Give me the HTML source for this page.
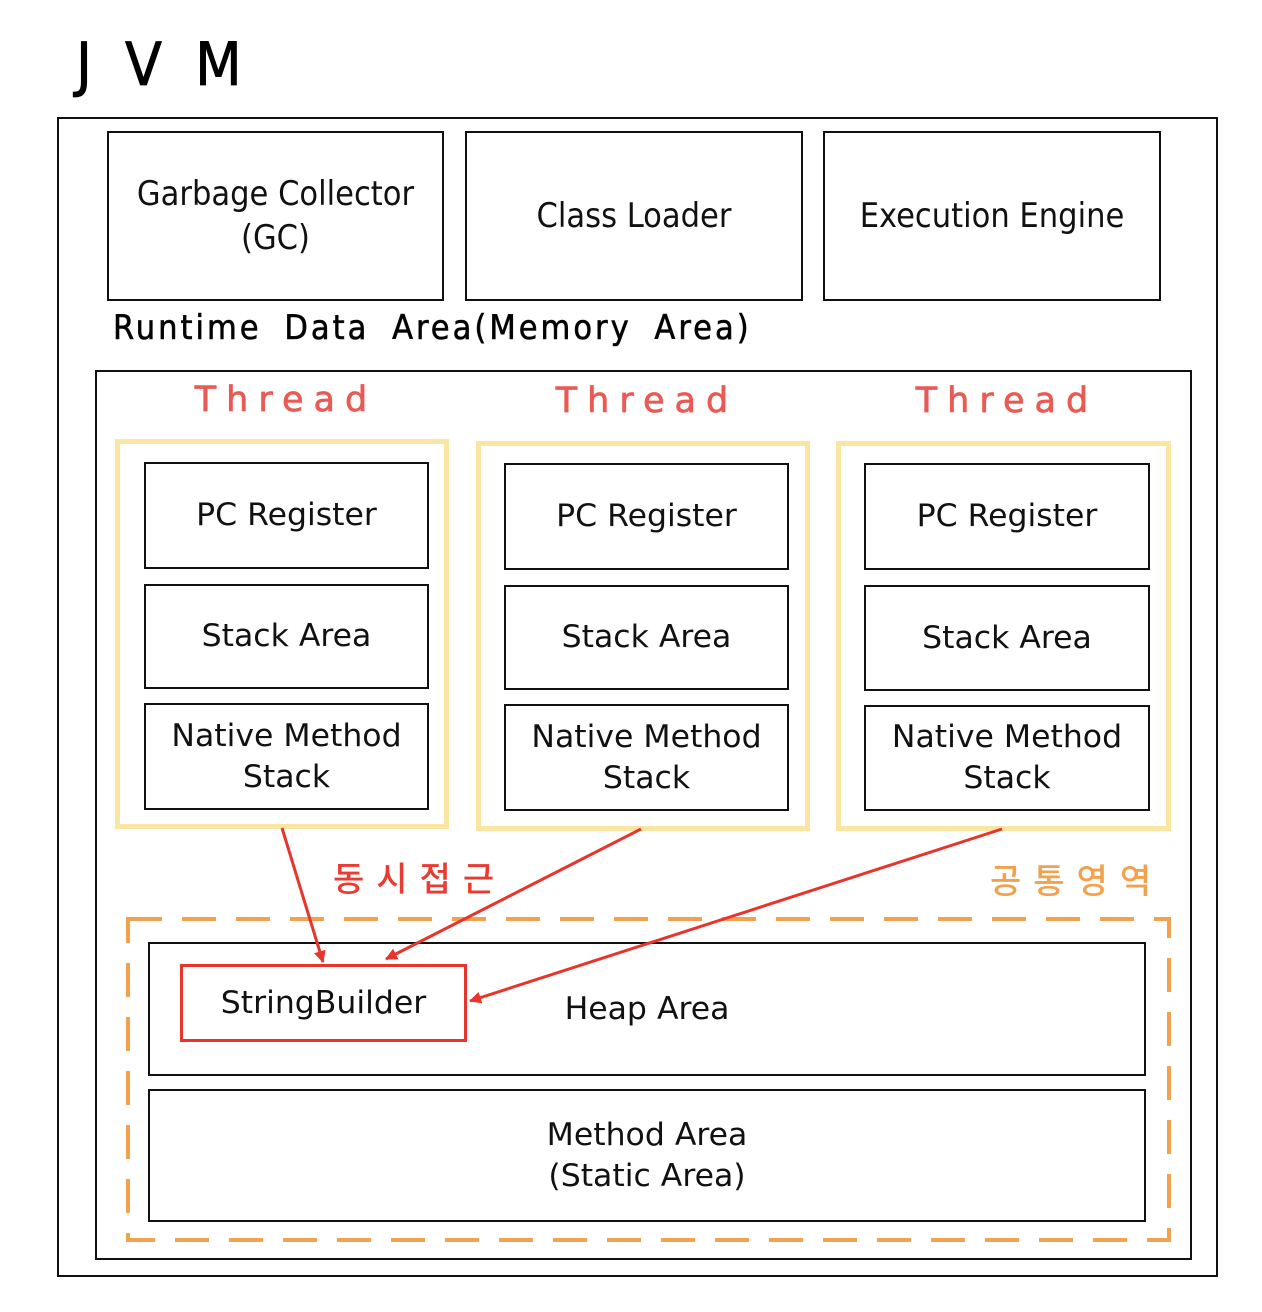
<!DOCTYPE html>
<html><head><meta charset="utf-8"><style>
body{margin:0;width:1262px;height:1312px;background:#fff;position:relative;font-family:"DejaVu Sans","Liberation Sans","Noto Sans CJK KR",sans-serif;overflow:hidden}
.b{position:absolute;box-sizing:border-box;border:2.5px solid #111;display:flex;align-items:center;justify-content:center;text-align:center;color:#111;font-size:31.5px;line-height:1.3}
.c{font-family:"DejaVu Sans Condensed","DejaVu Sans",sans-serif;font-size:34px}
.y{position:absolute;box-sizing:border-box;border:5px solid #fbe5a3}
.t{position:absolute;color:#ea5a55;font-size:35px;letter-spacing:10px;font-family:"DejaVu Sans",sans-serif;width:300px;text-align:center;-webkit-text-stroke:0.7px #ea5a55}
.k{position:absolute;font-family:"Noto Sans CJK KR",sans-serif;font-size:34px;font-weight:500;letter-spacing:12px}
</style></head><body>
<div style="position:absolute;left:76px;top:30px;font-size:60px;letter-spacing:7px;word-spacing:2px;font-family:'DejaVu Sans Condensed','DejaVu Sans',sans-serif;-webkit-text-stroke:0.8px #000">J V M</div>
<div class="b" style="left:57px;top:117px;width:1161px;height:1160px"></div>
<div class="b c" style="left:107px;top:131px;width:337px;height:170px">Garbage Collector<br>(GC)</div>
<div class="b c" style="left:465px;top:131px;width:338px;height:170px">Class Loader</div>
<div class="b c" style="left:823px;top:131px;width:338px;height:170px">Execution Engine</div>
<div style="position:absolute;left:113px;top:308px;font-size:34px;letter-spacing:3px;word-spacing:10px;font-family:'DejaVu Sans Condensed','DejaVu Sans',sans-serif;-webkit-text-stroke:0.6px #111">Runtime Data Area(Memory Area)</div>
<div class="b" style="left:95px;top:370px;width:1097px;height:890px"></div>

<div class="t" style="left:136px;top:380px">Thread</div>
<div class="t" style="left:497px;top:381px">Thread</div>
<div class="t" style="left:857px;top:381px">Thread</div>

<div class="y" style="left:115px;top:439px;width:334px;height:390px"></div>
<div class="y" style="left:476px;top:441px;width:334px;height:390px"></div>
<div class="y" style="left:836px;top:441px;width:335px;height:390px"></div>

<div class="b" style="left:144px;top:462px;width:285px;height:107px">PC Register</div>
<div class="b" style="left:144px;top:584px;width:285px;height:105px">Stack Area</div>
<div class="b" style="left:144px;top:703px;width:285px;height:107px">Native Method<br>Stack</div>
<div class="b" style="left:504px;top:463px;width:285px;height:107px">PC Register</div>
<div class="b" style="left:504px;top:585px;width:285px;height:105px">Stack Area</div>
<div class="b" style="left:504px;top:704px;width:285px;height:107px">Native Method<br>Stack</div>
<div class="b" style="left:864px;top:463px;width:286px;height:107px">PC Register</div>
<div class="b" style="left:864px;top:585px;width:286px;height:106px">Stack Area</div>
<div class="b" style="left:864px;top:705px;width:286px;height:106px">Native Method<br>Stack</div>

<div class="k" style="left:333px;top:852px;color:#ea3b32">동시접근</div>
<div class="k" style="left:990px;top:854px;color:#f2a24e">공통영역</div>

<svg style="position:absolute;left:0;top:0" width="1262" height="1312">
<rect x="128" y="919" width="1041" height="321" fill="none" stroke="#f2a24e" stroke-width="4" stroke-dasharray="34,20"/>
</svg>
<div class="b" style="left:148px;top:942px;width:998px;height:134px">Heap Area</div>
<div class="b" style="left:148px;top:1089px;width:998px;height:133px">Method Area<br>(Static Area)</div>
<div class="b" style="left:180px;top:964px;width:287px;height:78px;border:3px solid #e8352c">StringBuilder</div>
<svg style="position:absolute;left:0;top:0" width="1262" height="1312">
<defs><marker id="a" markerWidth="12" markerHeight="12" refX="11" refY="6" orient="auto" markerUnits="userSpaceOnUse"><path d="M0,0 L12,6 L0,12 z" fill="#e8352c"/></marker></defs>
<g stroke="#e8352c" stroke-width="3" fill="none" marker-end="url(#a)">
<line x1="282" y1="828" x2="323" y2="962"/>
<line x1="641" y1="829" x2="386" y2="959"/>
<line x1="1002" y1="829" x2="470" y2="1001"/>
</g></svg>
</body></html>
